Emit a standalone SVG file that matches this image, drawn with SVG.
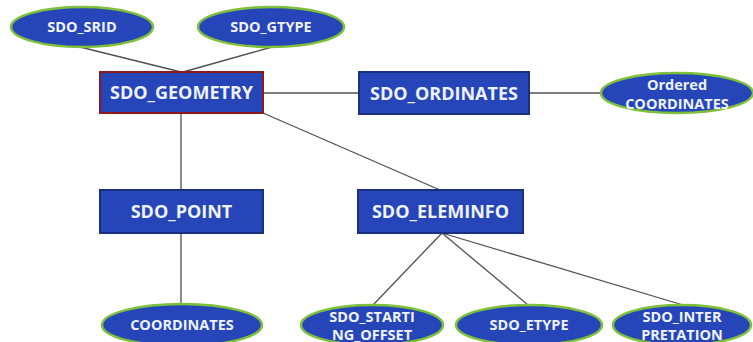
<svg xmlns="http://www.w3.org/2000/svg" width="753" height="342" viewBox="0 0 753 342">
<style>
.box{fill:#2545b8;stroke:#17307f;stroke-width:2}
.root{fill:#2545b8;stroke:#8b1a1a;stroke-width:2}
.ell{fill:#2545b8;stroke:#7fc03a;stroke-width:2.5}
.bt{font-family:"Open Sans","Liberation Sans",sans-serif;font-weight:bold;font-size:18px;fill:#eef3ff;text-anchor:middle}
.et{font-family:"Open Sans","Liberation Sans",sans-serif;font-weight:bold;font-size:14.5px;fill:#eef3ff;text-anchor:middle}
.ln{stroke:#505050;stroke-width:1.3;fill:none}
</style>
<rect width="753" height="342" fill="#ffffff"/>
<g id="connectors">
<line class="ln" x1="80" y1="47" x2="181" y2="72"/>
<line class="ln" x1="272" y1="47" x2="183" y2="72"/>
<line class="ln" x1="263" y1="93" x2="358" y2="93"/>
<line class="ln" x1="529" y1="93" x2="601" y2="93"/>
<line class="ln" x1="181" y1="113" x2="181" y2="190"/>
<line class="ln" x1="181" y1="233" x2="181" y2="304"/>
<line class="ln" x1="263" y1="113" x2="440" y2="190"/>
<line class="ln" x1="442" y1="233" x2="373" y2="305"/>
<line class="ln" x1="442" y1="233" x2="528" y2="305"/>
<line class="ln" x1="442" y1="233" x2="683" y2="305"/>
</g>
<g id="sdo_srid"><ellipse class="ell" cx="82" cy="27" rx="71" ry="20"/><text class="et" x="82" y="32">SDO_SRID</text></g>
<g id="sdo_gtype"><ellipse class="ell" cx="271" cy="27" rx="73" ry="20"/><text class="et" x="271" y="32">SDO_GTYPE</text></g>
<g id="sdo_geometry"><rect class="root" x="100" y="72" width="163" height="41"/><text class="bt" x="181.5" y="99">SDO_GEOMETRY</text></g>
<g id="sdo_ordinates"><rect class="box" x="359" y="72" width="170" height="42"/><text class="bt" x="444" y="99.5">SDO_ORDINATES</text></g>
<g id="ordered_coordinates"><ellipse class="ell" cx="677" cy="93" rx="76" ry="20"/><text class="et" x="677" y="89.5">Ordered</text><text class="et" x="677" y="108.5">COORDINATES</text></g>
<g id="sdo_point"><rect class="box" x="100" y="190" width="163" height="43"/><text class="bt" x="181.5" y="218">SDO_POINT</text></g>
<g id="sdo_eleminfo"><rect class="box" x="358" y="190" width="165" height="43"/><text class="bt" x="440.5" y="218">SDO_ELEMINFO</text></g>
<g id="coordinates"><ellipse class="ell" cx="182" cy="325" rx="80" ry="21"/><text class="et" x="182" y="330">COORDINATES</text></g>
<g id="sdo_starting_offset"><ellipse class="ell" cx="372" cy="325" rx="71" ry="20"/><text class="et" x="372" y="321.5">SDO_STARTI</text><text class="et" x="372" y="339.5">NG_OFFSET</text></g>
<g id="sdo_etype"><ellipse class="ell" cx="529" cy="325" rx="73" ry="20"/><text class="et" x="529" y="330">SDO_ETYPE</text></g>
<g id="sdo_interpretation"><ellipse class="ell" cx="682" cy="325" rx="69" ry="20"/><text class="et" x="682" y="321.5">SDO_INTER</text><text class="et" x="682" y="339.5">PRETATION</text></g>
</svg>
